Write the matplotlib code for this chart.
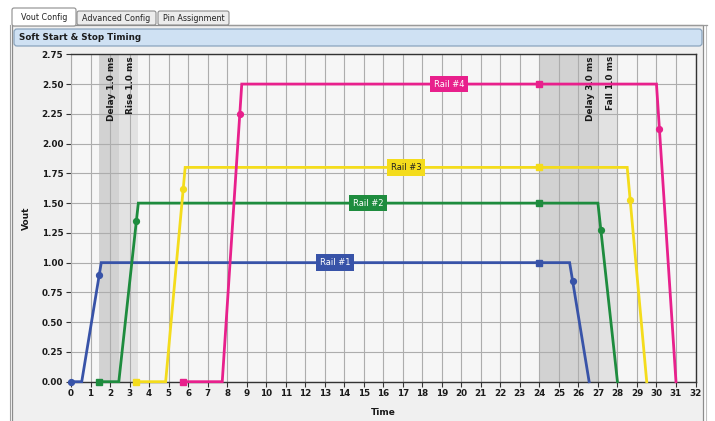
import matplotlib
matplotlib.use("Agg")
import matplotlib.pyplot as plt
from matplotlib.patches import Rectangle, FancyBboxPatch

# ---------------- data ----------------
rail_names = ["Rail #1", "Rail #2", "Rail #3", "Rail #4"]
rail_colors = ["#3853a8", "#1e8c3e", "#f4dc1c", "#e8208c"]
label_text_colors = ["white", "white", "#222222", "white"]

rail1_time = [0.0, 0.55, 1.55, 24.0, 25.55, 26.55]
rail1_vout = [0.0, 0.0, 1.00, 1.00, 1.00, 0.0]
rail2_time = [1.45, 2.45, 3.45, 24.0, 27.0, 28.0]
rail2_vout = [0.0, 0.0, 1.50, 1.50, 1.50, 0.0]
rail3_time = [3.35, 4.85, 5.85, 24.0, 28.5, 29.5]
rail3_vout = [0.0, 0.0, 1.80, 1.80, 1.80, 0.0]
rail4_time = [5.75, 7.75, 8.75, 24.0, 30.0, 31.0]
rail4_vout = [0.0, 0.0, 2.50, 2.50, 2.50, 0.0]
rail_times = [rail1_time, rail2_time, rail3_time, rail4_time]
rail_vouts = [rail1_vout, rail2_vout, rail3_vout, rail4_vout]

rise_mark_time = [1.45, 3.35, 5.75, 8.65]
rise_mark_vout = [0.90, 1.35, 1.62, 2.25]
fall_mark_time = [25.70, 27.15, 28.65, 30.15]
fall_mark_vout = [0.85, 1.275, 1.53, 2.125]
start_marker = ["o", "s", "s", "s"]

band_start = [1.45, 2.45, 24.0, 27.0]
band_end = [2.45, 3.45, 27.0, 28.0]
band_labels = ["Delay 1.0 ms", "Rise 1.0 ms", "Delay 3.0 ms", "Fall 1.0 ms"]
band_colors = ["#d2d2d2", "#e2e2e2", "#d2d2d2", "#e2e2e2"]

x_ticks = list(range(0, 33))
y_ticks = [0.00, 0.25, 0.50, 0.75, 1.00, 1.25, 1.50, 1.75, 2.00, 2.25, 2.50, 2.75]
tab_names = ["Vout Config", "Advanced Config", "Pin Assignment"]

# ---------------- figure & UI chrome ----------------
W, H = 715, 421
fig = plt.figure(figsize=(W / 100, H / 100), dpi=100)
fig.patch.set_facecolor("white")

ui = fig.add_axes([0, 0, 1, 1], zorder=0)
ui.set_xlim(0, W)
ui.set_ylim(H, 0)
ui.axis("off")

# panel
ui.add_patch(Rectangle((12, 25), 691, 410, facecolor="#f0f0f0", edgecolor="#8c8c8c", lw=0.9))
ui.plot([9.5, 9.5], [25, 421], color="#a0a0a0", lw=0.8)
ui.plot([705.5, 705.5], [25, 421], color="#c0c0c0", lw=0.8)
ui.plot([229, 707], [25, 25], color="#9a9a9a", lw=0.9)

# header bar
ui.add_patch(FancyBboxPatch((14, 29), 688, 17, boxstyle="round,pad=0,rounding_size=3",
                            facecolor="#cfe1f3", edgecolor="#8aa4bd", lw=0.9))
ui.text(19, 38, "Soft Start & Stop Timing", fontsize=6.3, fontweight="bold",
        color="#1c1c1c", va="center", ha="left")

# tabs
tab_x = [(12, 76), (77, 156), (158, 229)]
for i, (name, (x0, x1)) in enumerate(zip(tab_names, tab_x)):
    top = 8 if i == 0 else 11
    bottom = 26 if i == 0 else 25
    fc = "white" if i == 0 else "#ececec"
    ui.add_patch(FancyBboxPatch((x0, top), x1 - x0, bottom - top,
                                boxstyle="round,pad=0,rounding_size=2",
                                facecolor=fc, edgecolor="#8c8c8c", lw=0.8))
    ui.text((x0 + x1) / 2, (top + bottom) / 2 + 0.5, name, fontsize=5.8,
            color="#222222", ha="center", va="center")

# ---------------- chart ----------------
ax = fig.add_axes([71 / W, 1 - 381.7 / H, (695.5 - 71) / W, (381.7 - 54.3) / H], zorder=1)
ax.set_facecolor("#f6f6f6")
ax.set_xlim(0, 32)
ax.set_ylim(0, 2.75)

for b0, b1, lab, c in zip(band_start, band_end, band_labels, band_colors):
    ax.axvspan(b0, b1, color=c, zorder=0.5, lw=0)
    ax.text(b1 - 0.38, 2.735, lab, rotation=90, ha="center", va="top",
            fontsize=6.4, fontweight="bold", color="#1a1a1a", zorder=2)

ax.set_xticks(x_ticks)
ax.set_yticks(y_ticks)
ax.set_xticklabels([str(t) for t in x_ticks])
ax.set_yticklabels([f"{v:.2f}" for v in y_ticks])
ax.grid(True, color="#adadad", lw=0.8, zorder=1)
ax.set_axisbelow(True)
ax.tick_params(axis="both", labelsize=6.3, colors="#333333", length=3.5, width=0.8, pad=2)
for lbl in ax.get_xticklabels() + ax.get_yticklabels():
    lbl.set_fontweight("bold")
    lbl.set_color("#1a1a1a")

for side in ["top", "right", "bottom"]:
    ax.spines[side].set_color("#333333")
    ax.spines[side].set_linewidth(1.0)
ax.spines["left"].set_color("#aaaaaa")
ax.spines["left"].set_linewidth(0.8)

ax.set_xlabel("Time", fontsize=6.5, fontweight="bold", color="#1a1a1a", labelpad=7)
ax.set_ylabel("Vout", fontsize=6.5, fontweight="bold", color="#1a1a1a", labelpad=8)

for i in range(4):
    t, v, c = rail_times[i], rail_vouts[i], rail_colors[i]
    ax.plot(t, v, color=c, lw=2.0, zorder=3, solid_joinstyle="miter", clip_on=False)
    ax.plot([t[0]], [v[0]], marker=start_marker[i], color=c, ms=4.2, zorder=4, clip_on=False)
    ax.plot([t[3]], [v[3]], marker="s", color=c, ms=4.2, zorder=4)
    ax.plot([rise_mark_time[i]], [rise_mark_vout[i]], marker="o", color=c, ms=4.2, zorder=4)
    ax.plot([fall_mark_time[i]], [fall_mark_vout[i]], marker="o", color=c, ms=4.2, zorder=4)
    mid = (t[2] + t[4]) / 2
    ax.text(mid, v[2], rail_names[i], fontsize=6.0, color=label_text_colors[i],
            ha="center", va="center", zorder=5,
            bbox=dict(boxstyle="square,pad=0.45", facecolor=c, edgecolor="none"))

fig.savefig("out.png", dpi=100)
